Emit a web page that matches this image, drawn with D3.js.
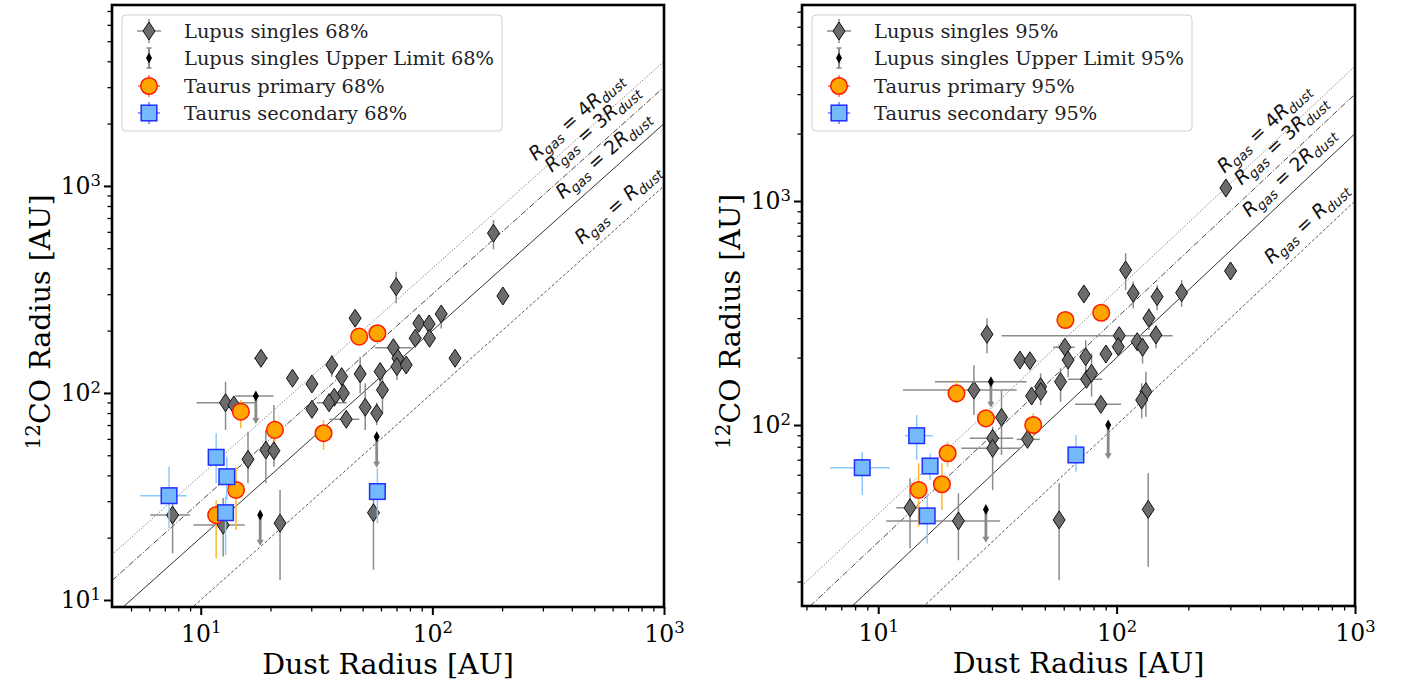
<!DOCTYPE html>
<html><head><meta charset="utf-8">
<script src="https://cdn.jsdelivr.net/npm/d3@7"></script>
<style>body{margin:0;background:#fff}svg{display:block}</style>
</head><body>
<script>
// ---------- DATA ----------
// rows: [dustRadius, gasRadius, xLow, xHigh, yLow, yHigh]   (null = no error bar)
const lupus68 = [
 [183.6,591,null,null,494,685],[69.8,326,null,null,271,385],[201.6,294,null,null,null,null],
 [46.4,229.6,null,null,null,null],[109.2,240.7,null,null,205,261],[87.4,217,null,null,null,null],
 [96.8,215.4,null,null,null,null],[84.3,183.8,null,null,null,null],[97.2,183.8,null,null,null,null],
 [67.9,165.5,56.6,81.5,null,null],[71.0,147.1,null,null,null,null],[70.3,134,null,null,115.6,149.7],
 [77.1,136.5,null,null,null,null],[125.3,147.1,null,null,null,null],[18.2,147.1,17,19.5,135,160],
 [36.8,136.5,null,null,119.9,152.6],[24.9,117.8,null,null,null,null],[30.2,110.5,null,null,null,null],
 [40.6,119.9,null,null,105.4,131.6],[48.8,123.6,null,null,99.7,149.7],[59.5,126.8,null,null,100,136.5],
 [60.9,103.4,null,null,79.7,133.9],[41.3,99.7,null,null,null,null],[37.7,95.3,null,null,null,null],
 [35.8,89.7,31.7,42.7,null,null],[30.2,83.4,null,null,null,null],[51.3,85.3,null,null,66.3,111.4],
 [57.5,79.8,null,null,70,90],[42.5,74.6,35.9,48.4,null,null],[12.8,89.7,9.6,17.2,66.3,113.4],
 [13.9,87.5,null,null,null,null],[16.0,47.8,null,null,36.6,65],[19.1,53.0,null,null,36.6,66.3],
 [20.7,52.6,null,null,44,87.5],[7.56,25.7,6.05,9.0,16.8,31.6],[12.5,23.0,9.3,15.5,16.2,31.1],
 [22.0,23.5,null,null,12.5,34],[55.7,26.4,null,null,14,32.8]
];
// upper limits: [dustRadius, gasRadius, xLow, xHigh, arrowEnd]
const lupusUL68 = [[17.3,96.7,14.1,20.6,71.6],[57.5,61.5,null,null,44],[18.06,25.7,null,null,18.5]];
const taurusPrim68 = [
 [48.3,187.1,null,null,null,null],[57.9,194.3,null,null,null,null],[14.9,81.2,null,null,67.5,92.5],
 [20.9,66.3,null,null,58,74],[33.9,63.9,null,null,53.1,74.1],[14.2,34.0,null,null,21.8,44],
 [11.66,25.7,null,null,15.9,30.4]
];
const taurusSec68 = [
 [11.66,48.9,11.1,12.3,36.6,63.8],[12.96,39.4,null,null,30.4,49.2],[7.3,31.9,5.48,8.7,22.2,44],
 [12.8,26.4,null,null,16.5,31.6],[57.9,33.4,null,null,23.5,43.3]
];
const lupus95 = [
 [109.1,492,null,null,400.7,584],[300.6,487,null,null,null,null],[72.9,384.6,null,null,null,null],
 [117.4,387.3,null,null,331.9,436.5],[147.9,374,null,null,325.6,420.8],[187.4,389.7,null,null,337,443.5],
 [136.6,299.5,null,null,265.6,331.9],[28.6,254,null,null,209,299.5],[102.6,250.5,32.9,171.8,null,null],
 [146.2,252.3,null,null,220,279],[122,235.5,null,null,null,null],[128.5,222.3,null,null,188,244],
 [101.6,223.7,null,null,210,240],[60.7,222.3,54.2,66.8,null,null],[90.2,207.5,null,null,null,null],
 [74.2,201.8,null,null,173,239],[39.3,195,null,null,null,null],[43.3,193.6,null,null,null,null],
 [62.6,195,null,null,164,223.3],[58.2,156.1,null,null,127,179],[74.8,160,62.5,87,null,null],
 [78.5,170.2,null,null,133.8,209],[48,148.3,null,null,122.7,170],[48.1,140.8,null,null,null,null],
 [44,134.7,null,null,null,null],[25.2,143.2,12.7,38.1,110.8,185],[85.9,123.7,66.9,104.6,null,null],
 [132.7,140.8,null,null,109,173],[127.4,129.3,null,null,107,153.5],[32.9,108.2,null,null,73.5,143],
 [30.2,87.2,24.2,36.8,null,null],[30.2,78.7,22.3,39.4,51.3,98.3],[42.3,86.3,38.1,47.6,null,null],
 [13.6,42.7,11.9,14.96,28.2,57.8],[21.7,37.3,10.8,32.4,24.9,49.5],[57.4,37.7,null,null,20.3,55],
 [135.7,42.0,null,null,23.3,60.9],[287.4,1143,null,null,1050,1240]
];
const lupusUL95 = [[29.7,156.1,17.3,41.9,120.7],[92.2,100,null,null,71],[28.3,42,null,null,30.1]];
const taurusPrim95 = [
 [61.0,294.3,null,null,null,null],[86.2,317.1,null,null,null,null],[21.3,138.5,null,null,125,158.6],
 [28.3,107.1,null,null,101,112],[44.7,100,null,null,88.7,112.8],[19.55,74.8,null,null,65.1,84.3],
 [18.5,54.4,null,null,41.7,67.5],[14.77,51.3,null,null,35.2,67.5]
];
const taurusSec95 = [
 [14.5,89.6,12.95,16.99,69.8,110.8],[16.5,65.6,null,null,56.8,74.8],[8.57,64.5,6.27,11.2,48.7,76],
 [16.05,39.3,null,null,29.6,49.5],[67.5,73.5,null,null,61.9,90.2]
];
const ratios = [4, 3, 2, 1];
const ratioLabels = ["4", "3", "2", ""];
const legendNames = ["Lupus singles", "Lupus singles Upper Limit", "Taurus primary", "Taurus secondary"];
const majorTicks = [10, 100, 1000];
const xTitle = "Dust Radius [AU]";
const yTitle = ["12", "CO Radius [AU]"];

// ---------- DRAW ----------
const W = 1408, H = 686;
const svg = d3.select("body").append("svg").attr("width", W).attr("height", H);
svg.append("rect").attr("width", W).attr("height", H).attr("fill", "#fff");
const SERIF = "DejaVu Serif";
const SANS = "DejaVu Sans";

const C = {
  lupusFill: "#6b6b6b", lupusErr: "#8c8c8c",
  ulErr: "#8a8a8a",
  primFill: "#ffa500", primEdge: "#ff1a00", primErr: "#ffb733",
  secFill: "#74b9fb", secEdge: "#1f2fff", secErr: "#8ccafc"
};
const lineStyle = {
  4: {dash: "1.2,1.8", color: "#666", w: 0.9},
  3: {dash: "6,2,1.2,2", color: "#333", w: 0.9},
  2: {dash: null, color: "#333", w: 1.0},
  1: {dash: "3,2", color: "#444", w: 0.9}
};

function diamond(w, h) { return `M0,${-h/2}L${w/2},0L0,${h/2}L${-w/2},0Z`; }

function minorTicks(dom) {
  const out = [];
  for (let e = 0; e <= 4; e++) for (let m = 2; m <= 9; m++) {
    const v = m * Math.pow(10, e);
    if (v >= dom[0] && v <= dom[1]) out.push(v);
  }
  return out;
}

function supLabel(sel) {
  sel.each(function(d) {
    const t = d3.select(this);
    t.text(null);
    t.append("tspan").text("10");
    t.append("tspan").attr("dy", "-0.5em").attr("font-size", "0.7em").text(Math.round(Math.log10(d)));
  });
}

function panel(cfg) {
  const x = d3.scaleLog().domain(cfg.xd).range([cfg.l, cfg.r]);
  const y = d3.scaleLog().domain(cfg.yd).range([cfg.b, cfg.t]);
  const g = svg.append("g");
  g.append("clipPath").attr("id", cfg.id).append("rect")
    .attr("x", cfg.l).attr("y", cfg.t).attr("width", cfg.r - cfg.l).attr("height", cfg.b - cfg.t);
  const p = g.append("g").attr("clip-path", `url(#${cfg.id})`);

  // ratio lines
  ratios.forEach(k => {
    const st = lineStyle[k];
    p.append("line")
      .attr("x1", x(cfg.xd[0])).attr("y1", y(k * cfg.xd[0]))
      .attr("x2", x(cfg.xd[1])).attr("y2", y(k * cfg.xd[1]))
      .attr("stroke", st.color).attr("stroke-width", st.w)
      .attr("stroke-dasharray", st.dash);
  });

  // line labels
  const ang = Math.atan2(y(1) - y(10), x(10) - x(1));
  const deg = ang * 180 / Math.PI;
  ratios.forEach((k, i) => {
    const x0 = x.invert(cfg.labelX[i]);
    const px = x(x0), py = y(k * x0);
    const off = cfg.labelOff;
    const tx = px - off * Math.sin(ang), ty = py - off * Math.cos(ang);
    const t = p.append("text").attr("transform", `translate(${tx},${ty}) rotate(${-deg})`)
      .attr("font-family", SANS).attr("font-size", 19).attr("fill", "#111");
    t.append("tspan").attr("font-style", "italic").text("R");
    t.append("tspan").attr("font-style", "italic").attr("font-size", 13.5).attr("dy", 4).text("gas");
    t.append("tspan").attr("dy", -4).text(" = " + ratioLabels[i]);
    t.append("tspan").attr("font-style", "italic").text("R");
    t.append("tspan").attr("font-style", "italic").attr("font-size", 13.5).attr("dy", 4).text("dust");
  });

  function errbars(data, color, w) {
    data.forEach(r => {
      if (r[2] != null) p.append("line").attr("x1", x(r[2])).attr("x2", x(r[3]))
        .attr("y1", y(r[1])).attr("y2", y(r[1])).attr("stroke", color).attr("stroke-width", w);
      if (r[4] != null) p.append("line").attr("x1", x(r[0])).attr("x2", x(r[0]))
        .attr("y1", y(r[4])).attr("y2", y(r[5])).attr("stroke", color).attr("stroke-width", w);
    });
  }
  // Lupus
  errbars(cfg.lupus, C.lupusErr, 1.5);
  p.selectAll(null).data(cfg.lupus).enter().append("path")
    .attr("d", diamond(12, 18)).attr("transform", d => `translate(${x(d[0])},${y(d[1])})`)
    .attr("fill", C.lupusFill).attr("stroke", "#111").attr("stroke-width", 1);
  // upper limits
  cfg.ul.forEach(r => {
    if (r[2] != null) p.append("line").attr("x1", x(r[2])).attr("x2", x(r[3]))
      .attr("y1", y(r[1])).attr("y2", y(r[1])).attr("stroke", C.ulErr).attr("stroke-width", 1.5);
    const ye = y(r[4]);
    p.append("line").attr("x1", x(r[0])).attr("x2", x(r[0])).attr("y1", y(r[1])).attr("y2", ye - 3)
      .attr("stroke", C.ulErr).attr("stroke-width", 2.8);
    p.append("path").attr("d", `M${x(r[0]) - 3.5},${ye - 5}L${x(r[0]) + 3.5},${ye - 5}L${x(r[0])},${ye + 1}Z`)
      .attr("fill", C.ulErr);
  });
  p.selectAll(null).data(cfg.ul).enter().append("path")
    .attr("d", diamond(6, 11)).attr("transform", d => `translate(${x(d[0])},${y(d[1])})`)
    .attr("fill", "#000");
  // Taurus primary
  errbars(cfg.prim, C.primErr, 1.5);
  p.selectAll(null).data(cfg.prim).enter().append("circle")
    .attr("cx", d => x(d[0])).attr("cy", d => y(d[1])).attr("r", 8.3)
    .attr("fill", C.primFill).attr("stroke", C.primEdge).attr("stroke-width", 1.5);
  // Taurus secondary
  errbars(cfg.sec, C.secErr, 1.5);
  p.selectAll(null).data(cfg.sec).enter().append("rect")
    .attr("x", d => x(d[0]) - 7.8).attr("y", d => y(d[1]) - 7.8).attr("width", 15.6).attr("height", 15.6)
    .attr("fill", C.secFill).attr("stroke", C.secEdge).attr("stroke-width", 1.5);

  // axes
  const styleAx = (a, w) => {
    a.select(".domain").remove();
    a.selectAll(".tick line").attr("stroke", "#000").attr("stroke-width", w);
  };
  const xMinor = g.append("g").attr("transform", `translate(0,${cfg.b})`)
    .call(d3.axisBottom(x).tickValues(minorTicks(cfg.xd)).tickSize(4.5).tickFormat(""));
  styleAx(xMinor, 1.3);
  const xMajor = g.append("g").attr("transform", `translate(0,${cfg.b})`)
    .call(d3.axisBottom(x).tickValues(majorTicks).tickSize(8).tickPadding(10).tickFormat(() => ""));
  styleAx(xMajor, 2);
  xMajor.selectAll(".tick text").attr("font-family", SERIF).attr("font-size", 23.5).attr("fill", "#000").call(supLabel);

  const yMinor = g.append("g").attr("transform", `translate(${cfg.l},0)`)
    .call(d3.axisLeft(y).tickValues(minorTicks(cfg.yd)).tickSize(4.5).tickFormat(""));
  styleAx(yMinor, 1.3);
  const yMajor = g.append("g").attr("transform", `translate(${cfg.l},0)`)
    .call(d3.axisLeft(y).tickValues(majorTicks.filter(v => v >= cfg.yd[0])).tickSize(8).tickPadding(3).tickFormat(() => ""));
  styleAx(yMajor, 2);
  yMajor.selectAll(".tick text").attr("font-family", SERIF).attr("font-size", 23.5).attr("fill", "#000").call(supLabel);

  // frame
  g.append("rect").attr("x", cfg.l).attr("y", cfg.t).attr("width", cfg.r - cfg.l).attr("height", cfg.b - cfg.t)
    .attr("fill", "none").attr("stroke", "#000").attr("stroke-width", 2.6);

  // titles
  g.append("text").attr("x", (cfg.l + cfg.r) / 2).attr("y", cfg.b + 67).attr("text-anchor", "middle")
    .attr("font-family", SERIF).attr("font-size", 28.5).attr("fill", "#000").text(xTitle);
  const yt = g.append("text").attr("transform", `translate(${cfg.l - 62},${(cfg.t + cfg.b) / 2 + 16}) rotate(-90)`)
    .attr("text-anchor", "middle").attr("font-family", SERIF).attr("font-size", 28.5).attr("fill", "#000");
  yt.append("tspan").attr("font-size", 20).attr("dy", -10).text(yTitle[0]);
  yt.append("tspan").attr("dy", 10).text(yTitle[1]);

  // legend
  const lg = g.append("g").attr("transform", `translate(${cfg.l + 10},${cfg.t + 10})`);
  lg.append("rect").attr("width", 380).attr("height", 116).attr("rx", 4)
    .attr("fill", "#fff").attr("fill-opacity", 0.85).attr("stroke", "#d0d0d0").attr("stroke-width", 1);
  const rowsY = [16, 43, 71, 98], mx = 27, tx0 = 62;
  // row 0
  lg.append("line").attr("x1", mx - 12).attr("x2", mx + 12).attr("y1", rowsY[0]).attr("y2", rowsY[0]).attr("stroke", C.lupusErr).attr("stroke-width", 1.5);
  lg.append("line").attr("x1", mx).attr("x2", mx).attr("y1", rowsY[0] - 12).attr("y2", rowsY[0] + 12).attr("stroke", C.lupusErr).attr("stroke-width", 1.5);
  lg.append("path").attr("d", diamond(12, 18)).attr("transform", `translate(${mx},${rowsY[0]})`).attr("fill", C.lupusFill).attr("stroke", "#111");
  // row 1
  lg.append("line").attr("x1", mx).attr("x2", mx).attr("y1", rowsY[1] - 10).attr("y2", rowsY[1] + 10).attr("stroke", C.ulErr).attr("stroke-width", 2);
  lg.append("line").attr("x1", mx - 2.5).attr("x2", mx + 2.5).attr("y1", rowsY[1] - 10).attr("y2", rowsY[1] - 10).attr("stroke", C.ulErr).attr("stroke-width", 1.5);
  lg.append("line").attr("x1", mx - 2.5).attr("x2", mx + 2.5).attr("y1", rowsY[1] + 10).attr("y2", rowsY[1] + 10).attr("stroke", C.ulErr).attr("stroke-width", 1.5);
  lg.append("path").attr("d", diamond(6, 11)).attr("transform", `translate(${mx},${rowsY[1]})`).attr("fill", "#000");
  // row 2
  lg.append("line").attr("x1", mx - 11).attr("x2", mx + 11).attr("y1", rowsY[2]).attr("y2", rowsY[2]).attr("stroke", C.primEdge).attr("stroke-width", 1);
  lg.append("line").attr("x1", mx).attr("x2", mx).attr("y1", rowsY[2] - 11).attr("y2", rowsY[2] + 11).attr("stroke", C.primEdge).attr("stroke-width", 1);
  lg.append("circle").attr("cx", mx).attr("cy", rowsY[2]).attr("r", 8.3).attr("fill", C.primFill).attr("stroke", C.primEdge).attr("stroke-width", 1.5);
  // row 3
  lg.append("line").attr("x1", mx - 11).attr("x2", mx + 11).attr("y1", rowsY[3]).attr("y2", rowsY[3]).attr("stroke", C.secEdge).attr("stroke-width", 1);
  lg.append("line").attr("x1", mx).attr("x2", mx).attr("y1", rowsY[3] - 11).attr("y2", rowsY[3] + 11).attr("stroke", C.secEdge).attr("stroke-width", 1);
  lg.append("rect").attr("x", mx - 7.8).attr("y", rowsY[3] - 7.8).attr("width", 15.6).attr("height", 15.6).attr("fill", C.secFill).attr("stroke", C.secEdge).attr("stroke-width", 1.5);
  legendNames.forEach((n, i) => {
    lg.append("text").attr("x", tx0).attr("y", rowsY[i] + 7).attr("font-family", SERIF).attr("font-size", 19.4)
      .attr("fill", "#222").text(n + " " + cfg.pct);
  });
}

panel({id: "cl", l: 112, r: 664, t: 5, b: 607, xd: [4.14, 1000], yd: [9.25, 7480],
  lupus: lupus68, ul: lupusUL68, prim: taurusPrim68, sec: taurusSec68, pct: "68%",
  labelX: [543, 559, 570, 589], labelOff: 11});
panel({id: "cr", l: 802, r: 1355, t: 5, b: 606, xd: [4.79, 1000], yd: [15.56, 7500],
  lupus: lupus95, ul: lupusUL95, prim: taurusPrim95, sec: taurusSec95, pct: "95%",
  labelX: [1232, 1249, 1257, 1279], labelOff: 11});
</script>
</body></html>
